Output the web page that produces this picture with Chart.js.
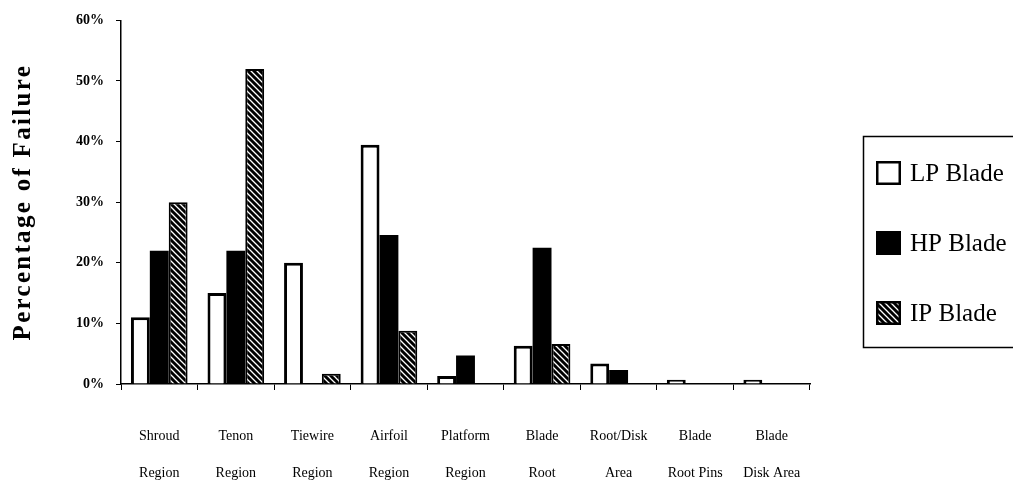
<!DOCTYPE html>
<html>
<head>
<meta charset="utf-8">
<script src="https://cdn.jsdelivr.net/npm/chart.js@4.4.1/dist/chart.umd.min.js"></script>
<style>
  html, body { margin: 0; padding: 0; background: #fff; }
  #wrap { width: 1013px; height: 499px; position: relative; }
</style>
</head>
<body>
<div id="wrap"><canvas id="c" width="1013" height="499"></canvas></div>
<script>
// Failure locations on turbine blades, share of failures per blade type (%)
const categories = [
  ['Shroud', 'Region'], ['Tenon', 'Region'], ['Tiewire', 'Region'],
  ['Airfoil', 'Region'], ['Platform', 'Region'], ['Blade', 'Root'],
  ['Root/Disk', 'Area'], ['Blade', 'Root Pins'], ['Blade', 'Disk Area']
];
const seriesNames = ['LP Blade', 'HP Blade', 'IP Blade'];
const lpBlade = [11, 15, 20, 39.5, 1.3, 6.3, 3.4, 0.7, 0.7];
const hpBlade = [22, 22, null, 24.6, 4.7, 22.5, 2.3, null, null];
const ipBlade = [30, 52, 1.7, 8.8, null, 6.6, null, null, null];
const yTicks = [0, 10, 20, 30, 40, 50, 60];
const yTitle = 'Percentage of Failure';

const SERIF = "'Liberation Serif', 'DejaVu Serif', serif";
const canvas = document.getElementById('c');
const ctx = canvas.getContext('2d');

// black fill with fine white diagonal stripes
function makeHatch() {
  const s = 6;
  const t = document.createElement('canvas');
  t.width = s; t.height = s;
  const g = t.getContext('2d');
  g.fillStyle = '#000';
  g.fillRect(0, 0, s, s);
  g.strokeStyle = '#fff';
  g.lineWidth = 1.3;
  g.beginPath();
  g.moveTo(-1, -1); g.lineTo(s + 1, s + 1);
  g.moveTo(-1, s - 1); g.lineTo(1, s + 1);
  g.moveTo(s - 1, -1); g.lineTo(s + 1, 1);
  g.stroke();
  return ctx.createPattern(t, 'repeat');
}
const hatch = makeHatch();

// rotated axis title with widened letter spacing
const axisTitle = {
  id: 'axisTitle',
  afterDraw(chart) {
    const c = chart.ctx;
    const a = chart.chartArea;
    c.save();
    c.translate(24, (a.top + a.bottom) / 2);
    c.rotate(-Math.PI / 2);
    c.font = 'bold 25px ' + SERIF;
    c.letterSpacing = '2.3px';
    c.fillStyle = '#000';
    c.textAlign = 'center';
    c.textBaseline = 'middle';
    c.fillText(yTitle, 0, 0);
    c.restore();
  }
};

// framed legend on the right
const framedLegend = {
  id: 'framedLegend',
  afterDraw(chart) {
    const c = chart.ctx;
    c.save();
    c.strokeStyle = '#000';
    c.lineWidth = 1.5;
    c.strokeRect(863.5, 136.5, 170, 211);
    chart.data.datasets.forEach((ds, i) => {
      const cy = 173 + i * 70;
      const x = 876, w = 25, h = 24;
      c.fillStyle = ds.backgroundColor;
      c.fillRect(x, cy - h / 2, w, h);
      c.strokeStyle = '#000';
      c.lineWidth = 2.5;
      c.strokeRect(x + 1.25, cy - h / 2 + 1.25, w - 2.5, h - 2.5);
      c.fillStyle = '#000';
      c.font = '25px ' + SERIF;
      c.textAlign = 'left';
      c.textBaseline = 'middle';
      c.fillText(ds.label, 910, cy + 1);
    });
    c.restore();
  }
};

new Chart(ctx, {
  type: 'bar',
  data: {
    labels: categories,
    datasets: [
      { label: seriesNames[0], data: lpBlade, backgroundColor: '#fff', borderColor: '#000', borderWidth: 3 },
      { label: seriesNames[1], data: hpBlade, backgroundColor: '#000', borderColor: '#000', borderWidth: 0 },
      { label: seriesNames[2], data: ipBlade, backgroundColor: hatch, borderColor: '#000', borderWidth: 2 }
    ]
  },
  options: {
    responsive: false,
    animation: false,
    devicePixelRatio: 1,
    categoryPercentage: 0.74,
    barPercentage: 1,
    layout: { padding: { top: 15, right: 203, left: 0, bottom: 0 } },
    plugins: { legend: { display: false }, tooltip: { enabled: false } },
    scales: {
      x: {
        grid: { drawOnChartArea: false, drawTicks: true, tickLength: 6, color: '#000', lineWidth: 1, offset: true },
        border: { color: '#000', width: 1.5 },
        ticks: {
          color: '#000', autoSkip: false, maxRotation: 0, padding: 28,
          font: { family: SERIF, size: 14, lineHeight: 2.65 }
        },
        afterFit(s) { s.height = 115; }
      },
      y: {
        min: 0, max: 60,
        afterBuildTicks(s) { s.ticks = yTicks.map(v => ({ value: v })); },
        grid: { drawOnChartArea: false, drawTicks: true, tickLength: 5, color: '#000', lineWidth: 1 },
        border: { color: '#000', width: 1.5 },
        ticks: {
          color: '#000', padding: 12,
          font: { family: SERIF, size: 14, weight: 'bold' },
          callback: v => v + '%'
        },
        afterFit(s) { s.width = 121; }
      }
    }
  },
  plugins: [axisTitle, framedLegend]
});
</script>
</body>
</html>
